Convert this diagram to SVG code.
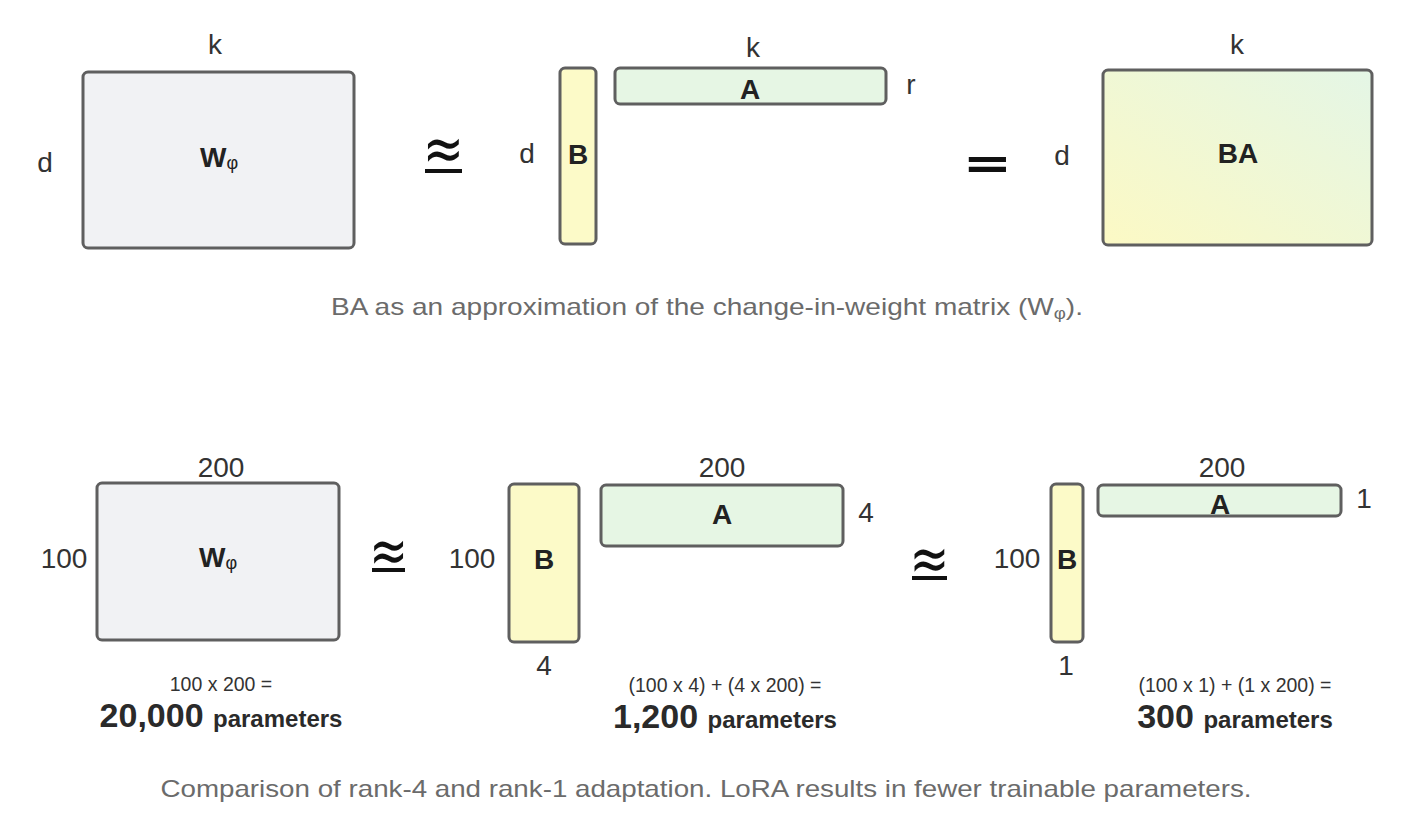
<svg xmlns="http://www.w3.org/2000/svg" width="1402" height="818" viewBox="0 0 1402 818">
<defs>
<linearGradient id="gBA" x1="0" y1="1" x2="1" y2="0">
<stop offset="0" stop-color="#fcf9c4"/>
<stop offset="1" stop-color="#e4f6e6"/>
</linearGradient>
</defs>
<style>
.box{stroke:#5f5f5f;stroke-width:3}
.w{fill:#f1f2f4}
.b{fill:#fcfac8}
.a{fill:#e6f6e4}
.lbl{font-family:"Liberation Sans",Arial,sans-serif;font-size:28px;fill:#333}
.bold{font-family:"Liberation Sans",Arial,sans-serif;font-weight:bold;font-size:28px;fill:#222}
.sub{font-family:"Liberation Sans",Arial,sans-serif;font-weight:normal;font-size:18px}
.sym{font-family:"DejaVu Sans",sans-serif;font-size:44px;fill:#111}
.ul{fill:#111}
.eq{font-family:"Liberation Sans",Arial,sans-serif;font-size:19.5px;fill:#333}
.big{font-family:"Liberation Sans",Arial,sans-serif;font-weight:bold;font-size:34px;fill:#2a2a2a}
.par{font-size:24px}
.cap{font-family:"Liberation Sans",Arial,sans-serif;font-size:24px;fill:#6b6b6b}
</style>
<rect width="1402" height="818" fill="#ffffff"/>

<g id="top-W">
<rect class="box w" x="83" y="72" width="271" height="176" rx="5"/>
<text class="lbl" x="215" y="54" text-anchor="middle">k</text>
<text class="lbl" x="45" y="172" text-anchor="middle">d</text>
<text class="bold" x="219" y="167" text-anchor="middle">W<tspan class="sub" dy="2">φ</tspan></text>
</g>
<g id="top-approx">
<text class="sym" transform="translate(443.5,170) scale(1.12,1.45)" text-anchor="middle">≈</text>
<rect class="ul" x="425" y="169" width="37" height="4"/>
</g>
<g id="top-B">
<rect class="box b" x="560" y="68" width="36" height="176" rx="5"/>
<text class="lbl" x="527" y="163" text-anchor="middle">d</text>
<text class="bold" x="578" y="164" text-anchor="middle" font-size="29">B</text>
</g>
<g id="top-A">
<rect class="box a" x="615" y="68" width="271" height="36" rx="5"/>
<text class="lbl" x="753" y="57" text-anchor="middle">k</text>
<text class="lbl" x="911" y="94" text-anchor="middle">r</text>
<text class="bold" x="750" y="99" text-anchor="middle">A</text>
</g>
<g id="top-equals">
<text class="sym" transform="translate(987.5,178) scale(1.35,1)" text-anchor="middle" font-weight="bold">=</text>
</g>
<g id="top-BA">
<rect class="box" fill="url(#gBA)" x="1103" y="70" width="269" height="175" rx="5"/>
<text class="lbl" x="1237" y="54" text-anchor="middle">k</text>
<text class="lbl" x="1062" y="165" text-anchor="middle">d</text>
<text class="bold" x="1238" y="163" text-anchor="middle" font-size="29">BA</text>
</g>
<text class="cap" x="707" y="315" text-anchor="middle" textLength="752" lengthAdjust="spacingAndGlyphs">BA as an approximation of the change-in-weight matrix (W<tspan font-size="16" dy="4">φ</tspan><tspan dy="-4">).</tspan></text>

<g id="bot-W">
<rect class="box w" x="97" y="483" width="242" height="157" rx="5"/>
<text class="lbl" x="221" y="477" text-anchor="middle">200</text>
<text class="lbl" x="64" y="568" text-anchor="middle">100</text>
<text class="bold" x="218" y="567" text-anchor="middle" font-size="26">W<tspan class="sub" font-size="17" dy="2">φ</tspan></text>
<text class="eq" x="221" y="691" text-anchor="middle">100 x 200 =</text>
<text class="big" x="221" y="727" text-anchor="middle">20,000 <tspan class="par">parameters</tspan></text>
</g>
<g id="bot-approx1">
<text class="sym" transform="translate(388.5,572) scale(1.05,1.45)" text-anchor="middle">≈</text>
<rect class="ul" x="372" y="568" width="33" height="4"/>
</g>
<g id="bot-B4">
<rect class="box b" x="509" y="484" width="70" height="158" rx="5"/>
<text class="lbl" x="472" y="568" text-anchor="middle">100</text>
<text class="bold" x="544" y="569" text-anchor="middle" font-size="25">B</text>
<text class="lbl" x="544" y="675" text-anchor="middle">4</text>
</g>
<g id="bot-A4">
<rect class="box a" x="601" y="485" width="242" height="61" rx="5"/>
<text class="lbl" x="722" y="477" text-anchor="middle">200</text>
<text class="bold" x="722" y="524" text-anchor="middle" font-size="25">A</text>
<text class="lbl" x="866" y="522" text-anchor="middle">4</text>
<text class="eq" x="725" y="692" text-anchor="middle">(100 x 4) + (4 x 200) =</text>
<text class="big" x="725" y="728" text-anchor="middle">1,200 <tspan class="par">parameters</tspan></text>
</g>
<g id="bot-approx2">
<text class="sym" transform="translate(929.5,580) scale(1.08,1.45)" text-anchor="middle">≈</text>
<rect class="ul" x="912" y="576" width="35" height="4"/>
</g>
<g id="bot-B1">
<rect class="box b" x="1051" y="484" width="32" height="158" rx="5"/>
<text class="lbl" x="1017" y="568" text-anchor="middle">100</text>
<text class="bold" x="1067" y="569" text-anchor="middle" font-size="25">B</text>
<text class="lbl" x="1066" y="675" text-anchor="middle">1</text>
</g>
<g id="bot-A1">
<rect class="box a" x="1098" y="485" width="243" height="31" rx="5"/>
<text class="lbl" x="1222" y="477" text-anchor="middle">200</text>
<text class="bold" x="1220" y="514" text-anchor="middle" font-size="25">A</text>
<text class="lbl" x="1364" y="508" text-anchor="middle">1</text>
<text class="eq" x="1235" y="692" text-anchor="middle">(100 x 1) + (1 x 200) =</text>
<text class="big" x="1235" y="728" text-anchor="middle">300 <tspan class="par">parameters</tspan></text>
</g>
<text class="cap" x="706" y="797" text-anchor="middle" textLength="1091" lengthAdjust="spacingAndGlyphs">Comparison of rank-4 and rank-1 adaptation. LoRA results in fewer trainable parameters.</text>
</svg>
